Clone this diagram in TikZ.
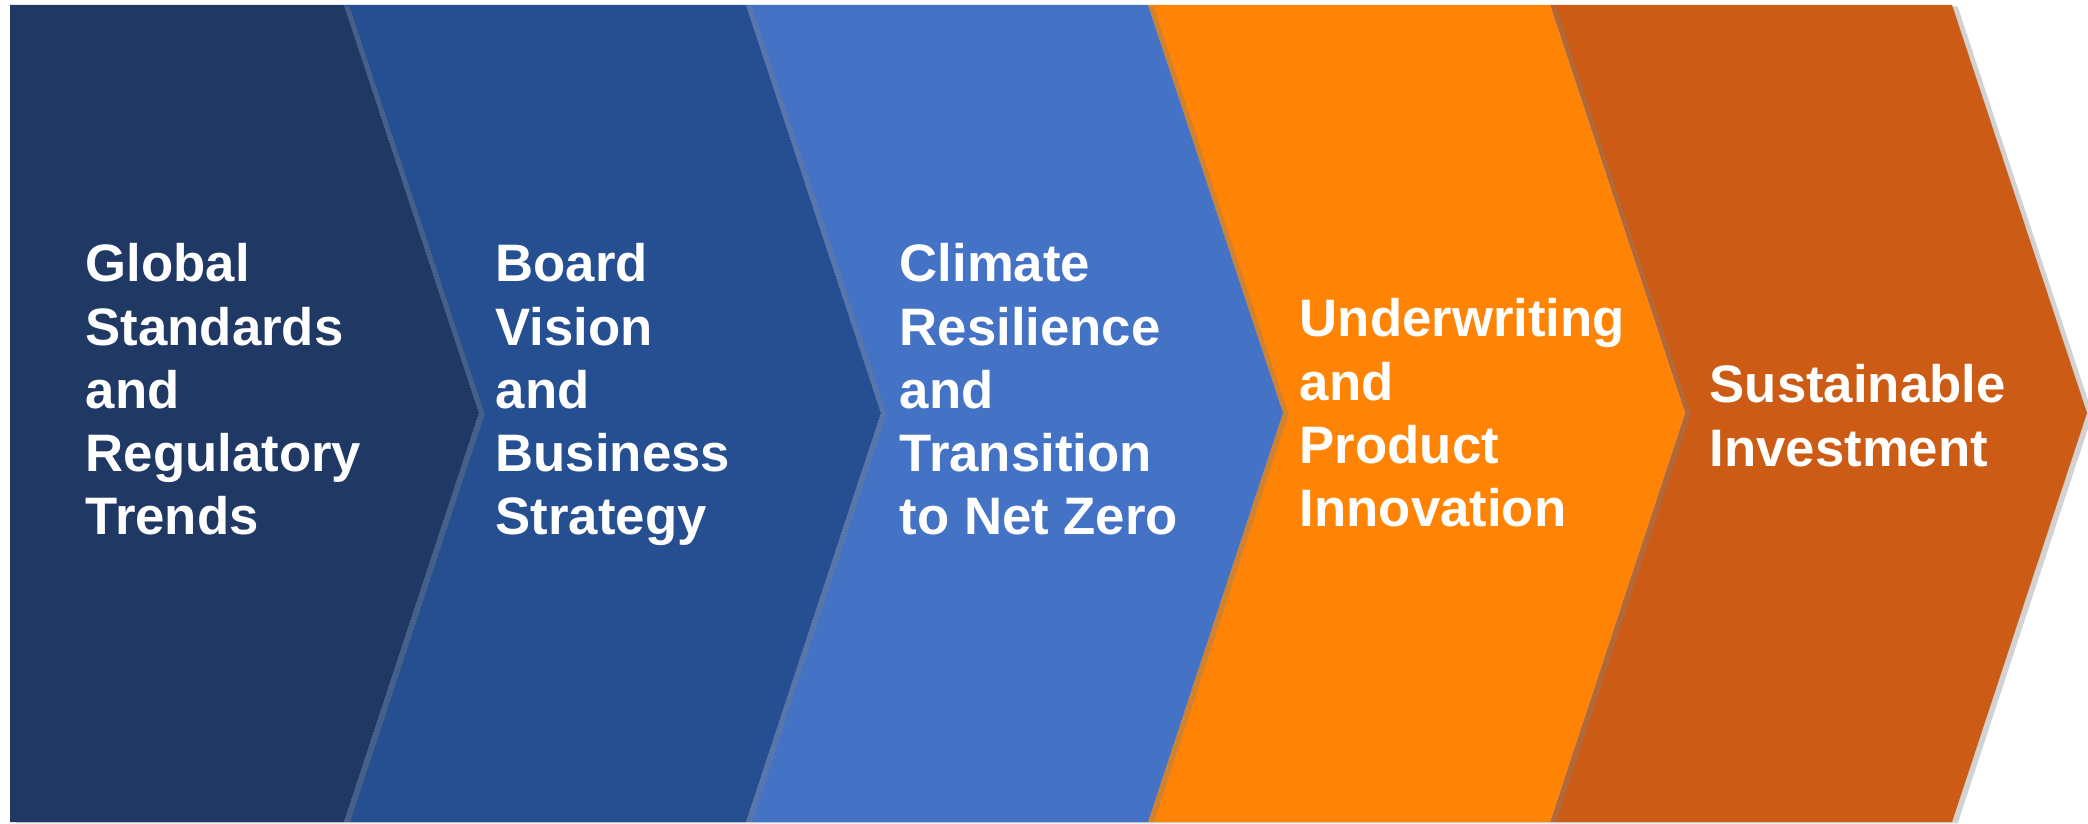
\documentclass[tikz,border=0pt]{standalone}
\usepackage{fontspec}
\setmainfont{Liberation Sans}
\usepackage{tikz}
\usetikzlibrary{positioning}
\usetikzlibrary{calc}
\usetikzlibrary{shadows}

\definecolor{navyA}{HTML}{203864}
\definecolor{blueB}{HTML}{254F91}
\definecolor{blueC}{HTML}{4472C4}
\definecolor{orangeD}{HTML}{FF8405}
\definecolor{brownE}{HTML}{CC5C15}

\begin{document}
\begin{tikzpicture}[
  chev/.style={draw=none, drop shadow={shadow xshift=1.6pt, shadow yshift=-0.4pt, opacity=0.35}},
  lbl/.style={anchor=north west, inner sep=0pt, text=white, align=left, font=\fontsize{15pt}{18pt}\selectfont\bfseries}]
\useasboundingbox[fill=white] (0,0) rectangle (20.88,8.23);
\coordinate (t0) at (0.10,8.18);
\coordinate (t1) at (3.44,8.18);
\coordinate (t2) at (7.46,8.18);
\coordinate (t3) at (11.48,8.18);
\coordinate (t4) at (15.50,8.18);
\coordinate (t5) at (19.52,8.18);

\fill[chev,brownE] (t4) -- (t5) -- ($(t5)+(1.35,-4.08)$) -- ($(t5)+(0,-8.17)$) -- ($(t4)+(0,-8.17)$) -- ($(t4)+(1.35,-4.08)$) -- cycle;
\fill[chev,orangeD] (t3) -- (t4) -- ($(t4)+(1.35,-4.08)$) -- ($(t4)+(0,-8.17)$) -- ($(t3)+(0,-8.17)$) -- ($(t3)+(1.35,-4.08)$) -- cycle;
\fill[chev,blueC] (t2) -- (t3) -- ($(t3)+(1.35,-4.08)$) -- ($(t3)+(0,-8.17)$) -- ($(t2)+(0,-8.17)$) -- ($(t2)+(1.35,-4.08)$) -- cycle;
\fill[chev,blueB] (t1) -- (t2) -- ($(t2)+(1.35,-4.08)$) -- ($(t2)+(0,-8.17)$) -- ($(t1)+(0,-8.17)$) -- ($(t1)+(1.35,-4.08)$) -- cycle;
\fill[chev,navyA] (t0) -- (t1) -- ($(t1)+(1.35,-4.08)$) -- ($(t1)+(0,-8.17)$) -- ($(t0)+(0,-8.17)$) -- cycle;

\node[lbl] (global) at (0.85,5.80) {Global\\Standards\\and\\Regulatory\\Trends};
\node[lbl] (board) at (4.95,5.80) {Board\\Vision\\and\\Business\\Strategy};
\node[lbl] (climate) at (8.99,5.80) {Climate\\Resilience\\and\\Transition\\to Net Zero};
\node[lbl] (under) at (12.99,5.25) {Underwriting\\and\\Product\\Innovation};
\node[lbl] (invest) at (17.09,4.59) {Sustainable\\Investment};
\end{tikzpicture}
\end{document}
